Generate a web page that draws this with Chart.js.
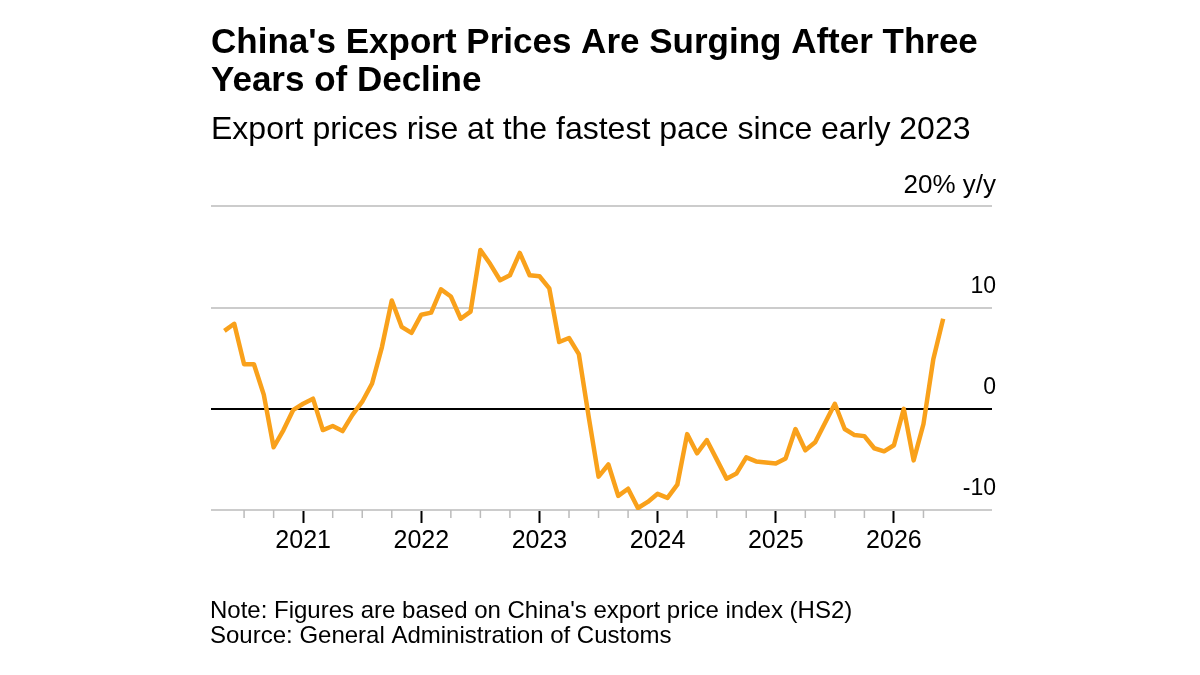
<!DOCTYPE html>
<html lang="en">
<head>
    <meta charset="UTF-8">
    <title>China's Export Prices Are Surging After Three Years of Decline</title>
    <script src="https://cdn.jsdelivr.net/npm/chart.js"></script>
    <style>
        html, body { margin: 0; padding: 0; background: #fff; }
        #wrap { width: 1200px; height: 675px; }
    </style>
</head>
<body>
    <div id="wrap"><canvas id="exportChart"></canvas></div>
    <script>
        // monthly export price index, % y/y, from May 2020 to Jun 2026
        const firstYear = 2020;
        const firstMonth = 5;
        const exportPriceYoY = [
            7.7, 8.4, 4.4, 4.4, 1.4, -3.8, -2.1, -0.1,                         // 2020 May-Dec
            0.5, 1.0, -2.1, -1.7, -2.2, -0.6, 0.7, 2.5, 6.1, 10.7, 8.1, 7.5,   // 2021
            9.3, 9.5, 11.8, 11.1, 8.9, 9.6, 15.7, 14.3, 12.7, 13.2, 15.4, 13.2, // 2022
            13.1, 11.9, 6.6, 7.0, 5.4, -0.8, -6.7, -5.5, -8.6, -7.9, -9.8, -9.2, // 2023
            -8.4, -8.8, -7.5, -2.5, -4.4, -3.1, -5.0, -6.9, -6.4, -4.8, -5.2, -5.3, // 2024
            -5.4, -4.9, -2.0, -4.1, -3.3, -1.4, 0.5, -2.0, -2.6, -2.7, -3.9, -4.2, // 2025
            -3.6, 0.0, -5.1, -1.5, 4.9, 8.9                                    // 2026 Jan-Jun
        ];
        const yearTicks = [2021, 2022, 2023, 2024, 2025, 2026];
        const yTicks = [-10, 0, 10, 20];

        const titleLines = ["China's Export Prices Are Surging After Three", "Years of Decline"];
        const subtitleText = "Export prices rise at the fastest pace since early 2023";
        const noteLines = ["Note: Figures are based on China's export price index (HS2)",
                           "Source: General Administration of Customs"];

        const FONT = "'Liberation Sans', Arial, sans-serif";
        const ORANGE = '#F9A11B';

        const points = exportPriceYoY.map((v, i) => ({
            x: firstYear + (firstMonth - 1 + i) / 12,
            y: v
        }));

        const isYear = v => Math.abs(v - Math.round(v)) < 1e-6 && yearTicks.includes(Math.round(v));

        // note + source under the chart
        const footerPlugin = {
            id: 'footer',
            afterDraw(chart) {
                const c = chart.ctx;
                c.save();
                c.fillStyle = '#000';
                c.font = '24px ' + FONT;
                c.textBaseline = 'middle';
                c.fillText(noteLines[0], 210, chart.height - 64);
                c.fillText(noteLines[1], 210, chart.height - 39);
                c.restore();
            }
        };

        // shorter grey quarter ticks
        const minorTicks = {
            id: 'minorTicks',
            afterDraw(chart) {
                const sx = chart.scales.x;
                const c = chart.ctx;
                const top = chart.chartArea.bottom;
                c.save();
                c.strokeStyle = '#bbb';
                c.lineWidth = 1.5;
                sx.ticks.forEach(t => {
                    if (isYear(t.value) || t.value < 2020.4 || t.value > 2026.3) return;
                    const px = sx.getPixelForValue(t.value);
                    c.beginPath();
                    c.moveTo(px, top);
                    c.lineTo(px, top + 8);
                    c.stroke();
                });
                c.restore();
            }
        };

        const ctx = document.getElementById('exportChart').getContext('2d');
        const chart = new Chart(ctx, {
            type: 'line',
            data: {
                datasets: [{
                    data: points,
                    borderColor: ORANGE,
                    borderWidth: 4.5,
                    pointRadius: 0,
                    tension: 0,
                    fill: false,
                    borderJoinStyle: 'round'
                }]
            },
            options: {
                responsive: true,
                maintainAspectRatio: false,
                animation: false,
                layout: { padding: { left: 211, right: 200, top: 0, bottom: 116 } },
                plugins: {
                    legend: { display: false },
                    tooltip: { enabled: false },
                    title: {
                        display: true,
                        text: titleLines,
                        align: 'start',
                        color: '#000',
                        font: { family: FONT, size: 35, weight: 'bold', lineHeight: 1.1 },
                        padding: { top: 24, bottom: 10 }
                    },
                    subtitle: {
                        display: true,
                        text: subtitleText,
                        align: 'start',
                        color: '#000',
                        font: { family: FONT, size: 32, lineHeight: 1.2 },
                        padding: { top: 0, bottom: 57 }
                    }
                },
                scales: {
                    x: {
                        type: 'linear',
                        min: 2020.22,
                        max: 2026.83,
                        border: { display: false },
                        grid: {
                            drawOnChartArea: false,
                            tickLength: 13,
                            tickWidth: 2,
                            tickColor: c => isYear(c.tick.value) ? '#000' : 'rgba(0,0,0,0)'
                        },
                        ticks: {
                            stepSize: 0.25,
                            includeBounds: false,
                            autoSkip: false,
                            maxRotation: 0,
                            padding: 3,
                            color: '#000',
                            font: { family: FONT, size: 25 },
                            callback: v => isYear(v) ? String(Math.round(v)) : ''
                        }
                    },
                    y: {
                        position: 'right',
                        min: -10,
                        max: 20,
                        border: { display: false },
                        afterBuildTicks: axis => { axis.ticks = yTicks.map(v => ({ value: v })); },
                        grid: {
                            drawTicks: false,
                            lineWidth: 2,
                            color: c => c.tick.value === 0 ? '#000' : '#ccc'
                        },
                        ticks: {
                            mirror: true,
                            padding: 4,
                            labelOffset: -21,
                            color: '#000',
                            font: c => ({ family: FONT, size: c.tick && c.tick.value === 20 ? 26 : 23 }),
                            callback: v => v === 20 ? '20% y/y' : String(v)
                        }
                    }
                }
            },
            plugins: [footerPlugin, minorTicks]
        });
    </script>
</body>
</html>
